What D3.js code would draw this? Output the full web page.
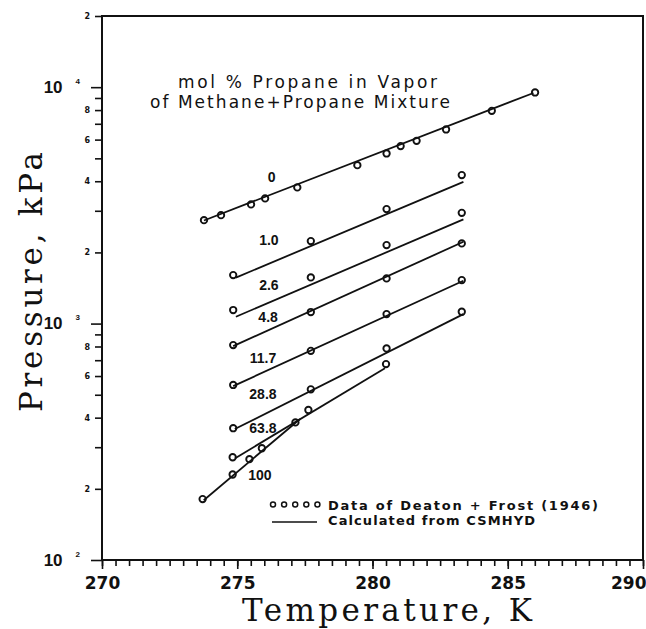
<!DOCTYPE html>
<html>
<head>
<meta charset="utf-8">
<script src="https://cdn.jsdelivr.net/npm/d3@7"></script>
<style>
  html, body { margin: 0; padding: 0; background: #fff; }
  svg { display: block; }
</style>
</head>
<body>
<svg id="chart" width="646" height="629"></svg>
<script>
// Hydrate formation conditions, methane + propane vapor mixtures.
// Composition (mol % propane in vapor) for each series.
const compositions = ["0", "1.0", "2.6", "4.8", "11.7", "28.8", "63.8", "100"];

// Measured points (Deaton + Frost, 1946): temperature in K, pressure in kPa.
const dataTemps = [
  [273.77, 274.40, 275.51, 276.03, 277.22, 279.44, 280.52, 281.04, 281.63, 282.72, 284.41, 286.01],
  [274.85, 277.72, 280.52, 283.30],
  [274.85, 277.72, 280.52, 283.30],
  [274.85, 277.72, 280.52, 283.30],
  [274.85, 277.72, 280.52, 283.30],
  [274.85, 277.72, 280.52, 283.30],
  [274.83, 277.63, 280.50],
  [273.72, 274.83, 275.45, 275.91, 277.15]
];
const dataPressures = [
  [2739, 2875, 3192, 3384, 3767, 4680, 5244, 5632, 5930, 6625, 7939, 9499],
  [1604, 2233, 3049, 4246],
  [1141, 1568, 2148, 2941],
  [811, 1119, 1553, 2184],
  [550, 767, 1097, 1527],
  [361, 527, 785, 1122],
  [272, 431, 674],
  [181, 230, 267, 297, 382]
];

// CSMHYD predictions: each curve runs from (start T, start P) to (end T, end P).
const calcStartT = [273.77, 274.95, 274.95, 274.85, 274.85, 274.91, 274.91, 273.76];
const calcStartP = [2730, 1565, 1069, 803, 544, 358, 269, 179];
const calcEndT   = [285.95, 283.36, 283.36, 283.36, 283.36, 283.36, 280.46, 277.32];
const calcEndP   = [9450, 3978, 2759, 2218, 1517, 1097, 647, 395];

// Where each composition label sits, in data units (K, kPa).
const labelT = [276.27, 276.17, 276.17, 276.14, 275.95, 275.95, 275.95, 275.84];
const labelP = [4177, 2255, 1455, 1069, 715, 503, 363, 229];

// Axis ticks.
const xMajorTicks = [270, 275, 280, 285, 290];
const xMinorTicks = d3.range(270, 290.001, 0.5);
const yDecades = [100, 1000, 10000];
const yDecadeExponents = ["2", "3", "4"];
const yMinorTicks = [200, 300, 400, 500, 600, 700, 800, 900,
                     2000, 3000, 4000, 5000, 6000, 7000, 8000, 9000, 20000];
const yMinorLabelled = [2, 4, 6, 8];

const titleLines = ["mol % Propane in Vapor", "of Methane+Propane Mixture"];
const legendTexts = ["Data of Deaton + Frost (1946)", "Calculated from CSMHYD"];

const svg = d3.select("#chart");
const x = d3.scaleLinear().domain([270, 290]).range([102, 643]);
const y = d3.scaleLog().domain([100, 20000]).range([560, 16]);

const ink = "#111";

// Plot frame
svg.append("rect")
  .attr("x", x(270)).attr("y", y(20000))
  .attr("width", x(290) - x(270)).attr("height", y(100) - y(20000))
  .attr("fill", "none").attr("stroke", ink).attr("stroke-width", 2);

// Bottom axis: minor ticks every 0.5 K, major every 5 K
const gx = svg.append("g").attr("transform", `translate(0,${y(100)})`);
gx.append("g").call(d3.axisBottom(x).tickValues(xMinorTicks).tickSize(6).tickFormat(""));
gx.append("g").call(d3.axisBottom(x).tickValues(xMajorTicks).tickSize(9).tickPadding(8).tickFormat(d3.format("d")));
gx.selectAll(".domain").remove();
gx.selectAll("line").attr("stroke", ink).attr("stroke-width", 1.6);
gx.selectAll("text")
  .attr("fill", ink)
  .style("font-family", "'DejaVu Sans', sans-serif")
  .style("font-weight", "bold")
  .style("font-size", "17px");
// the last label sits flush with the right edge of the frame
gx.selectAll(".tick text").filter(d => d === 290)
  .attr("text-anchor", "end").attr("x", 3);

// Left axis: log scale, decades plus 2..9 minor ticks
const gy = svg.append("g").attr("transform", `translate(${x(270)},0)`);
const minorAxis = gy.append("g").call(
  d3.axisLeft(y).tickValues(yMinorTicks).tickSize(7).tickPadding(5)
    .tickFormat(d => {
      const m = Math.round(d / Math.pow(10, Math.floor(Math.log10(d) + 1e-9)));
      return yMinorLabelled.includes(m) ? String(m) : "";
    })
);
minorAxis.selectAll("text")
  .attr("fill", ink)
  .style("font-family", "'DejaVu Sans', sans-serif")
  .style("font-weight", "bold")
  .style("font-size", "8px");

const majorAxis = gy.append("g").call(
  d3.axisLeft(y).tickValues(yDecades).tickSize(11).tickFormat("")
);
majorAxis.selectAll(".tick").each(function (d, i) {
  const t = d3.select(this).append("text")
    .attr("x", -22).attr("y", 0).attr("dy", "0.5em")
    .attr("text-anchor", "end")
    .attr("fill", ink)
    .style("font-family", "'Liberation Sans', Arial, sans-serif")
    .style("font-weight", "bold");
  t.append("tspan").style("font-size", "17px").text("10");
  t.append("tspan").attr("dx", 13).attr("dy", -9).style("font-size", "8px")
    .text(yDecadeExponents[i]);
});
gy.selectAll(".domain").remove();
gy.selectAll("line").attr("stroke", ink).attr("stroke-width", 1.6);

// Axis titles
svg.append("text")
  .attr("x", 242).attr("y", 621)
  .attr("textLength", 290).attr("lengthAdjust", "spacing")
  .attr("fill", ink)
  .style("font-family", "'DejaVu Serif', 'Liberation Serif', serif")
  .style("font-size", "31px")
  .text("Temperature, K");

svg.append("text")
  .attr("transform", "translate(42,412) rotate(-90)")
  .attr("x", 0).attr("y", 0)
  .attr("textLength", 260).attr("lengthAdjust", "spacing")
  .attr("fill", ink)
  .style("font-family", "'DejaVu Serif', 'Liberation Serif', serif")
  .style("font-size", "31px")
  .text("Pressure, kPa");

// Chart caption inside the plot
svg.append("text")
  .attr("x", 178).attr("y", 88)
  .attr("textLength", 259).attr("lengthAdjust", "spacing")
  .attr("fill", ink)
  .style("font-family", "'DejaVu Sans', sans-serif")
  .style("font-size", "17px")
  .text(titleLines[0]);
svg.append("text")
  .attr("x", 150).attr("y", 108)
  .attr("textLength", 300).attr("lengthAdjust", "spacing")
  .attr("fill", ink)
  .style("font-family", "'DejaVu Sans', sans-serif")
  .style("font-size", "17px")
  .text(titleLines[1]);

// Calculated curves
const line = d3.line().x(d => x(d[0])).y(d => y(d[1]));
svg.append("g").selectAll("path")
  .data(compositions.map((c, i) => [[calcStartT[i], calcStartP[i]], [calcEndT[i], calcEndP[i]]]))
  .join("path")
  .attr("d", line)
  .attr("fill", "none")
  .attr("stroke", ink)
  .attr("stroke-width", 1.8);

// Measured points
const points = [];
compositions.forEach((c, i) => {
  dataTemps[i].forEach((t, j) => points.push([t, dataPressures[i][j]]));
});
svg.append("g").selectAll("circle")
  .data(points)
  .join("circle")
  .attr("cx", d => x(d[0]))
  .attr("cy", d => y(d[1]))
  .attr("r", 3.2)
  .attr("fill", "none")
  .attr("stroke", ink)
  .attr("stroke-width", 1.9);

// Composition labels
svg.append("g").selectAll("text")
  .data(compositions)
  .join("text")
  .attr("x", (d, i) => x(labelT[i]))
  .attr("y", (d, i) => y(labelP[i]))
  .attr("text-anchor", "middle")
  .attr("dominant-baseline", "central")
  .attr("fill", ink)
  .style("font-family", "'Liberation Sans', Arial, sans-serif")
  .style("font-weight", "bold")
  .style("font-size", "14px")
  .text(d => d);

// Legend
const legend = svg.append("g");
legend.selectAll("circle")
  .data(d3.range(5))
  .join("circle")
  .attr("cx", d => 273 + d * 11.1)
  .attr("cy", 504.5)
  .attr("r", 2.5)
  .attr("fill", "none")
  .attr("stroke", ink)
  .attr("stroke-width", 1.5);
legend.append("line")
  .attr("x1", 272).attr("x2", 317)
  .attr("y1", 522).attr("y2", 522)
  .attr("stroke", ink).attr("stroke-width", 1.5);
legend.selectAll("text")
  .data(legendTexts)
  .join("text")
  .attr("x", 328)
  .attr("y", (d, i) => 509.5 + i * 15)
  .attr("textLength", (d, i) => i === 0 ? 270 : 207)
  .attr("lengthAdjust", "spacing")
  .attr("fill", ink)
  .style("font-family", "'DejaVu Sans', sans-serif")
  .style("font-weight", "bold")
  .style("font-size", "13px")
  .text(d => d);
</script>
</body>
</html>
